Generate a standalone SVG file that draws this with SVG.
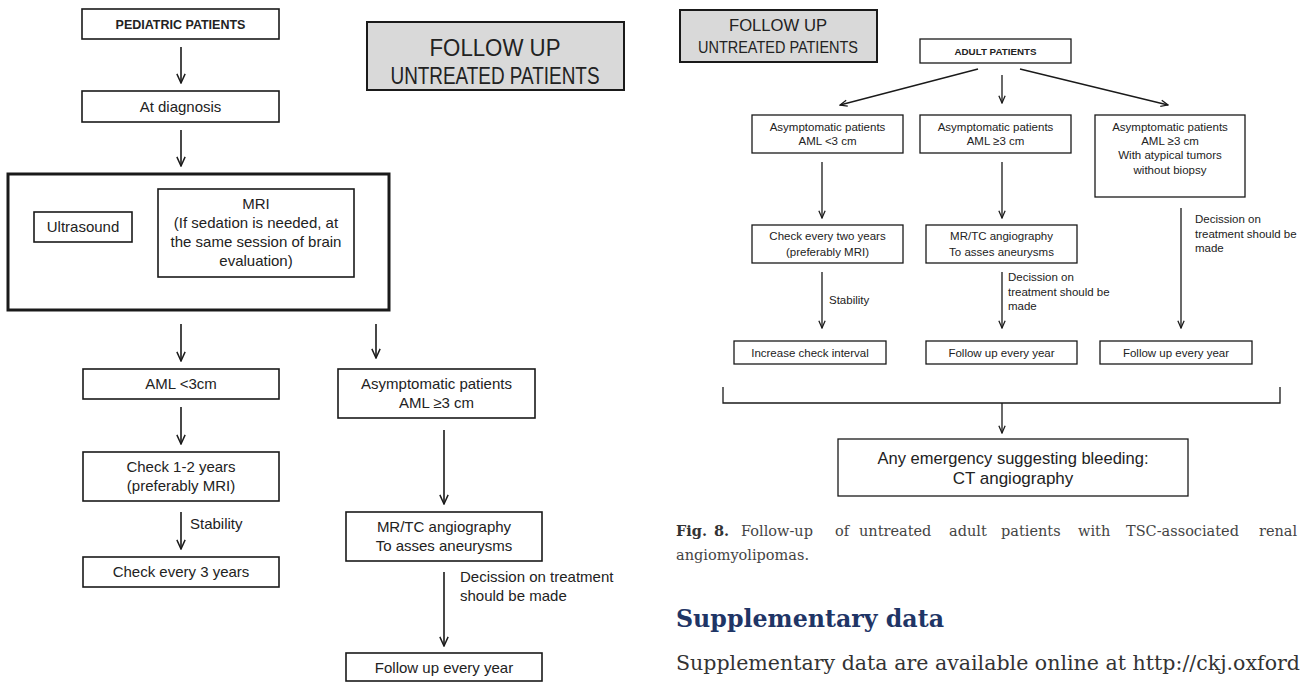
<svg xmlns="http://www.w3.org/2000/svg" width="1303" height="682" viewBox="0 0 1303 682">
<defs>
<style>
.b{fill:#fff;stroke:#1a1a1a;stroke-width:1.6}
.bs{fill:#fff;stroke:#1a1a1a;stroke-width:1.3}
.g{fill:#d9d9d9;stroke:#1a1a1a;stroke-width:2}
.t{font-family:"Liberation Sans",Arial,sans-serif;font-size:15px;fill:#222;text-anchor:middle}
.tl{font-family:"Liberation Sans",Arial,sans-serif;font-size:15px;fill:#222}
.s{font-family:"Liberation Sans",Arial,sans-serif;font-size:11.5px;fill:#222;text-anchor:middle}
.sl{font-family:"Liberation Sans",Arial,sans-serif;font-size:11.5px;fill:#222}
.c{fill:none;stroke:#1a1a1a;stroke-width:1.6}
.cs{fill:none;stroke:#1a1a1a;stroke-width:1.3}
.cap{font-family:"DejaVu Serif","Liberation Serif",serif;font-size:14.5px;fill:#444}
</style>
<marker id="ah" viewBox="0 0 12 12" refX="11" refY="6" markerWidth="11" markerHeight="11" markerUnits="userSpaceOnUse" orient="auto"><path d="M1,1.5 L11,6 L1,10.5" fill="none" stroke="#1a1a1a" stroke-width="1.6"/></marker>
<marker id="ahs" viewBox="0 0 10 10" refX="9" refY="5" markerWidth="9" markerHeight="9" markerUnits="userSpaceOnUse" orient="auto"><path d="M1,1.5 L9,5 L1,8.5" fill="none" stroke="#1a1a1a" stroke-width="1.4"/></marker>
</defs>

<g id="connectors">
<line class="c" x1="181" y1="47" x2="181" y2="83" marker-end="url(#ah)"/>
<line class="c" x1="181" y1="130" x2="181" y2="166" marker-end="url(#ah)"/>
<line class="c" x1="181" y1="324" x2="181" y2="361" marker-end="url(#ah)"/>
<line class="c" x1="376" y1="324" x2="376" y2="358" marker-end="url(#ah)"/>
<line class="c" x1="181" y1="407" x2="181" y2="444" marker-end="url(#ah)"/>
<line class="c" x1="181" y1="512" x2="181" y2="549" marker-end="url(#ah)"/>
<line class="c" x1="444" y1="430" x2="444" y2="504" marker-end="url(#ah)"/>
<line class="c" x1="444" y1="572" x2="444" y2="646" marker-end="url(#ah)"/>
<line class="cs" x1="978" y1="69" x2="840" y2="105" marker-end="url(#ahs)"/>
<line class="cs" x1="1002" y1="75" x2="1002" y2="103" marker-end="url(#ahs)"/>
<line class="cs" x1="1020" y1="69" x2="1168" y2="105" marker-end="url(#ahs)"/>
<line class="cs" x1="822" y1="162" x2="822" y2="218" marker-end="url(#ahs)"/>
<line class="cs" x1="1002" y1="162" x2="1002" y2="218" marker-end="url(#ahs)"/>
<line class="cs" x1="822" y1="272" x2="822" y2="328" marker-end="url(#ahs)"/>
<line class="cs" x1="1002" y1="272" x2="1002" y2="328" marker-end="url(#ahs)"/>
<line class="cs" x1="1181" y1="208" x2="1181" y2="328" marker-end="url(#ahs)"/>
<path class="cs" d="M723,387 V403 H1280 V387"/>
<line class="cs" x1="1002" y1="403" x2="1002" y2="433" marker-end="url(#ahs)"/>
<text class="tl" x="190" y="529">Stability</text>
<text class="tl" x="460" y="582">Decission on treatment</text>
<text class="tl" x="460" y="601">should be made</text>
<text class="sl" x="829" y="304">Stability</text>
<text class="sl" x="1008" y="281">Decission on</text>
<text class="sl" x="1008" y="296">treatment should be</text>
<text class="sl" x="1008" y="310">made</text>
<text class="sl" x="1195" y="223">Decission on</text>
<text class="sl" x="1195" y="238">treatment should be</text>
<text class="sl" x="1195" y="252">made</text>
</g>

<g id="ped">
<rect class="b" x="82" y="9" width="197" height="30"/>
<text class="t" x="180.5" y="28.5" style="font-weight:bold;font-size:12.5px">PEDIATRIC PATIENTS</text>
</g>
<g id="title-left">
<rect class="g" x="367" y="22" width="257" height="68"/>
<text class="t" x="495" y="56" style="font-size:24px" textLength="131" lengthAdjust="spacingAndGlyphs">FOLLOW UP</text>
<text class="t" x="495" y="84" style="font-size:24px" textLength="209" lengthAdjust="spacingAndGlyphs">UNTREATED PATIENTS</text>
</g>
<g id="diag">
<rect class="b" x="82" y="91" width="197" height="31"/>
<text class="t" x="180.5" y="112">At diagnosis</text>
</g>
<g id="imaging">
<rect fill="#fff" stroke="#1a1a1a" stroke-width="3" x="8" y="174" width="381" height="136"/>
</g>
<g id="us">
<rect class="b" x="34" y="212" width="98" height="30"/>
<text class="t" x="83" y="232">Ultrasound</text>
</g>
<g id="mri">
<rect class="b" x="158" y="189" width="196" height="88"/>
<text class="t" x="256" y="209">MRI</text>
<text class="t" x="256" y="228">(If sedation is needed, at</text>
<text class="t" x="256" y="247">the same session of brain</text>
<text class="t" x="256" y="266">evaluation)</text>
</g>
<g id="aml-small">
<rect class="b" x="83" y="369" width="196" height="30"/>
<text class="t" x="181" y="389">AML &lt;3cm</text>
</g>
<g id="asym-ped">
<rect class="b" x="338" y="369" width="197" height="49"/>
<text class="t" x="436.5" y="389">Asymptomatic patients</text>
<text class="t" x="436.5" y="408">AML ≥3 cm</text>
</g>
<g id="check12">
<rect class="b" x="83" y="452" width="196" height="49"/>
<text class="t" x="181" y="472">Check 1-2 years</text>
<text class="t" x="181" y="491">(preferably MRI)</text>
</g>
<g id="check3">
<rect class="b" x="83" y="557" width="196" height="30"/>
<text class="t" x="181" y="577">Check every 3 years</text>
</g>
<g id="mrtc-ped">
<rect class="b" x="346" y="512" width="196" height="49"/>
<text class="t" x="444" y="532">MR/TC angiography</text>
<text class="t" x="444" y="551">To asses aneurysms</text>
</g>
<g id="fu-ped">
<rect class="b" x="346" y="653" width="196" height="28"/>
<text class="t" x="444" y="673">Follow up every year</text>
</g>

<g id="title-right">
<rect class="g" x="680" y="10" width="197" height="52"/>
<text class="t" x="778" y="31" style="font-size:17px" textLength="98" lengthAdjust="spacingAndGlyphs">FOLLOW UP</text>
<text class="t" x="778" y="53" style="font-size:17px" textLength="160" lengthAdjust="spacingAndGlyphs">UNTREATED PATIENTS</text>
</g>
<g id="adult">
<rect class="bs" x="920" y="39" width="151" height="24"/>
<text class="s" x="995.5" y="54.5" style="font-weight:bold;font-size:9.5px" textLength="82" lengthAdjust="spacingAndGlyphs">ADULT PATIENTS</text>
</g>
<g id="a1">
<rect class="bs" x="752" y="115" width="151" height="38"/>
<text class="s" x="827.5" y="131">Asymptomatic patients</text>
<text class="s" x="827.5" y="145">AML &lt;3 cm</text>
</g>
<g id="a2">
<rect class="bs" x="920" y="115" width="151" height="38"/>
<text class="s" x="995.5" y="131">Asymptomatic patients</text>
<text class="s" x="995.5" y="145">AML ≥3 cm</text>
</g>
<g id="a3">
<rect class="bs" x="1095" y="115" width="150" height="82"/>
<text class="s" x="1170" y="131">Asymptomatic patients</text>
<text class="s" x="1170" y="145">AML ≥3 cm</text>
<text class="s" x="1170" y="159">With atypical tumors</text>
<text class="s" x="1170" y="174">without biopsy</text>
</g>
<g id="b1">
<rect class="bs" x="752" y="225" width="151" height="38"/>
<text class="s" x="827.5" y="240">Check every two years</text>
<text class="s" x="827.5" y="256">(preferably MRI)</text>
</g>
<g id="b2">
<rect class="bs" x="926" y="225" width="151" height="38"/>
<text class="s" x="1001.5" y="240">MR/TC angiography</text>
<text class="s" x="1001.5" y="256">To asses aneurysms</text>
</g>
<g id="c1">
<rect class="bs" x="734" y="341" width="152" height="23"/>
<text class="s" x="810" y="357">Increase check interval</text>
</g>
<g id="c2">
<rect class="bs" x="926" y="341" width="151" height="23"/>
<text class="s" x="1001.5" y="357">Follow up every year</text>
</g>
<g id="c3">
<rect class="bs" x="1100" y="341" width="152" height="23"/>
<text class="s" x="1176" y="357">Follow up every year</text>
</g>
<g id="d">
<rect class="bs" x="838" y="439" width="350" height="57"/>
<text class="t" x="1013" y="464" style="font-size:17px" textLength="271" lengthAdjust="spacingAndGlyphs">Any emergency suggesting bleeding:</text>
<text class="t" x="1013" y="484" style="font-size:17px">CT angiography</text>
</g>

<g id="caption">
<text class="cap" y="536"><tspan x="676" style="font-weight:bold;fill:#333">Fig.</tspan><tspan x="714" style="font-weight:bold;fill:#333">8.</tspan><tspan x="741">Follow-up</tspan><tspan x="835">of</tspan><tspan x="859">untreated</tspan><tspan x="949">adult</tspan><tspan x="1001">patients</tspan><tspan x="1078">with</tspan><tspan x="1126">TSC-associated</tspan><tspan x="1259">renal</tspan></text>
<text class="cap" x="676" y="560">angiomyolipomas.</text>
<text x="676" y="627" style="font-family:'DejaVu Serif','Liberation Serif',serif;font-weight:bold;font-size:24px;fill:#1f3566" textLength="268" lengthAdjust="spacingAndGlyphs">Supplementary data</text>
<text x="676" y="670" style="font-family:'DejaVu Serif','Liberation Serif',serif;font-size:20px;fill:#333" textLength="624" lengthAdjust="spacingAndGlyphs">Supplementary data are available online at http://ckj.oxford</text>
</g>
</svg>
